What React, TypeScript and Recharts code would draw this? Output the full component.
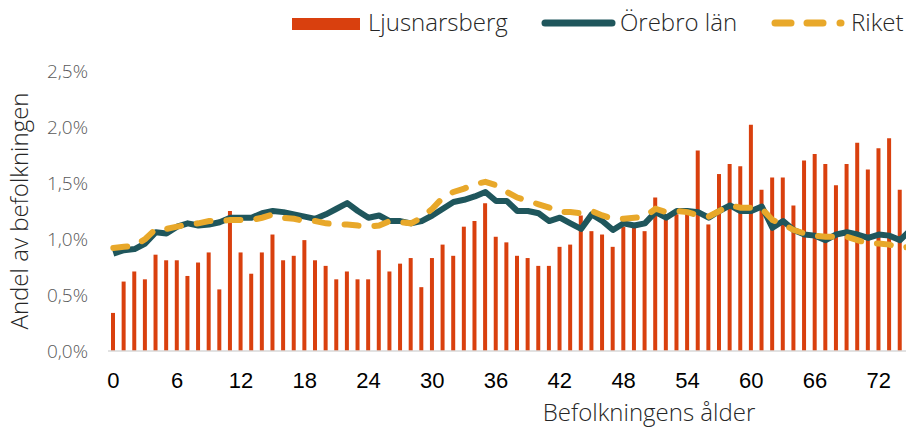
import React from 'react';
import { ComposedChart, Bar, Line, XAxis, YAxis, Label } from 'recharts';

const ages = [
  0, 1, 2, 3, 4, 5, 6, 7, 8, 9, 10, 11, 12, 13, 14, 15, 16, 17, 18, 19, 20, 21, 22, 23, 24, 25,
  26, 27, 28, 29, 30, 31, 32, 33, 34, 35, 36, 37, 38, 39, 40, 41, 42, 43, 44, 45, 46, 47, 48, 49,
  50, 51, 52, 53, 54, 55, 56, 57, 58, 59, 60, 61, 62, 63, 64, 65, 66, 67, 68, 69, 70, 71, 72, 73,
  74, 75,
];

// andel i procent
const ljusnarsberg = [
  0.34, 0.62, 0.71, 0.64, 0.86, 0.81, 0.81, 0.67, 0.79, 0.88, 0.55, 1.25, 0.88, 0.69, 0.88, 1.04,
  0.81, 0.85, 0.99, 0.81, 0.76, 0.64, 0.71, 0.64, 0.64, 0.9, 0.71, 0.78, 0.83, 0.57, 0.83, 0.95,
  0.85, 1.11, 1.16, 1.32, 1.02, 0.97, 0.85, 0.83, 0.76, 0.76, 0.93, 0.95, 1.21, 1.07, 1.04, 0.93,
  1.11, 1.11, 1.07, 1.37, 1.22, 1.22, 1.23, 1.79, 1.13, 1.58, 1.67, 1.65, 2.02, 1.44, 1.55, 1.55,
  1.3, 1.7, 1.76, 1.67, 1.48, 1.67, 1.86, 1.62, 1.81, 1.9, 1.44, null,
];

const orebroLan = [
  0.87, 0.9, 0.91, 0.96, 1.06, 1.05, 1.11, 1.14, 1.12, 1.13, 1.15, 1.19, 1.19, 1.19, 1.23, 1.25,
  1.24, 1.22, 1.2, 1.18, 1.22, 1.27, 1.32, 1.25, 1.19, 1.21, 1.16, 1.16, 1.14, 1.16, 1.21, 1.27,
  1.33, 1.35, 1.38, 1.42, 1.34, 1.34, 1.25, 1.25, 1.23, 1.16, 1.19, 1.14, 1.09, 1.22, 1.16, 1.08,
  1.14, 1.12, 1.14, 1.24, 1.19, 1.25, 1.25, 1.24, 1.19, 1.25, 1.3, 1.25, 1.25, 1.29, 1.1, 1.16,
  1.08, 1.04, 1.03, 0.99, 1.04, 1.06, 1.04, 1.01, 1.04, 1.03, 0.99, 1.08,
];

const riket = [
  0.92, 0.93, 0.94, 1.0, 1.09, 1.09, 1.11, 1.13, 1.14, 1.16, 1.16, 1.17, 1.17, 1.17, 1.19, 1.22,
  1.19, 1.18, 1.16, 1.16, 1.14, 1.13, 1.13, 1.12, 1.11, 1.12, 1.16, 1.15, 1.14, 1.19, 1.27, 1.37,
  1.42, 1.45, 1.49, 1.51, 1.48, 1.42, 1.37, 1.34, 1.31, 1.28, 1.24, 1.24, 1.23, 1.25, 1.21, 1.18,
  1.18, 1.19, 1.2, 1.27, 1.24, 1.25, 1.24, 1.21, 1.2, 1.25, 1.3, 1.28, 1.28, 1.27, 1.17, 1.13,
  1.08, 1.05, 1.03, 1.02, 1.02, 1.02, 0.99, 0.96, 0.96, 0.95, 0.92, 0.93,
];

const yTicks = [0, 0.5, 1, 1.5, 2, 2.5];

const data = ages.map((age, i) => ({
  age,
  ljus: ljusnarsberg[i],
  orebro: orebroLan[i],
  riket: riket[i],
}));

const RED = '#D9400E';
const TEAL = '#1F565C';
const GOLD = '#E8A82A';
const thin = '"Open Sans", sans-serif';

const fmtPct = (v: number) => v.toFixed(1).replace('.', ',') + '%';

const LegendOverlay = () => (
  <svg width={906} height={50} style={{ position: 'absolute', left: 0, top: 0 }}>
    <rect x={292} y={18} width={68} height={12} fill={RED} />
    <text x={368} y={31} fontFamily={thin} fontWeight={300} fontSize={24} fill="#262626">
      Ljusnarsberg
    </text>
    <line x1={545} y1={23} x2={612} y2={23} stroke={TEAL} strokeWidth={7} strokeLinecap="round" />
    <text x={620} y={31} fontFamily={thin} fontWeight={300} fontSize={24} fill="#262626">
      Örebro län
    </text>
    <line x1={775} y1={23} x2={791} y2={23} stroke={GOLD} strokeWidth={7} strokeLinecap="round" />
    <line x1={807} y1={23} x2={823} y2={23} stroke={GOLD} strokeWidth={7} strokeLinecap="round" />
    <line x1={840} y1={23} x2={841} y2={23} stroke={GOLD} strokeWidth={7} strokeLinecap="round" />
    <text x={851} y={31} fontFamily={thin} fontWeight={300} fontSize={24} fill="#262626">
      Riket
    </text>
  </svg>
);

export default function App() {
  return (
    <div
      style={{
        position: 'fixed',
        left: 0,
        top: 0,
        width: 906,
        height: 428,
        overflow: 'hidden',
        background: '#fff',
      }}
    >
      <ComposedChart width={916} height={428} data={data} margin={{ top: 71, right: 0, bottom: 0, left: 0 }}>
        <XAxis
          dataKey="age"
          interval={5}
          height={77}
          tickLine={false}
          tickSize={0}
          tickMargin={21}
          axisLine={{ stroke: '#D9D9D9', strokeWidth: 1.5 }}
          tick={{ fontFamily: '"Liberation Sans", Arial, sans-serif', fontSize: 22, fill: '#000' }}
        >
          <Label
            content={() => (
              <text x={649} y={421} textAnchor="middle" fontFamily={thin} fontWeight={300} fontSize={24} fill="#262626">
                Befolkningens ålder
              </text>
            )}
          />
        </XAxis>
        <YAxis
          width={108}
          domain={[0, 2.5]}
          ticks={yTicks}
          tickFormatter={fmtPct}
          axisLine={false}
          tickLine={false}
          tickSize={0}
          tickMargin={20}
          tick={{ fontFamily: thin, fontWeight: 300, fontSize: 19, fill: '#595959' }}
        >
          <Label
            content={() => (
              <text
                x={28}
                y={211}
                transform="rotate(-90 28 211)"
                textAnchor="middle"
                fontFamily={thin}
                fontWeight={300}
                fontSize={24}
                fill="#262626"
              >
                Andel av befolkningen
              </text>
            )}
          />
        </YAxis>
        <Bar dataKey="ljus" fill={RED} barSize={4} isAnimationActive={false} />
        <Line
          type="linear"
          dataKey="orebro"
          stroke={TEAL}
          strokeWidth={6}
          dot={false}
          strokeLinejoin="round"
          isAnimationActive={false}
        />
        <Line
          type="linear"
          dataKey="riket"
          stroke={GOLD}
          strokeWidth={6}
          strokeDasharray="14 16"
          strokeLinecap="round"
          dot={false}
          isAnimationActive={false}
        />
      </ComposedChart>
      <LegendOverlay />
    </div>
  );
}
